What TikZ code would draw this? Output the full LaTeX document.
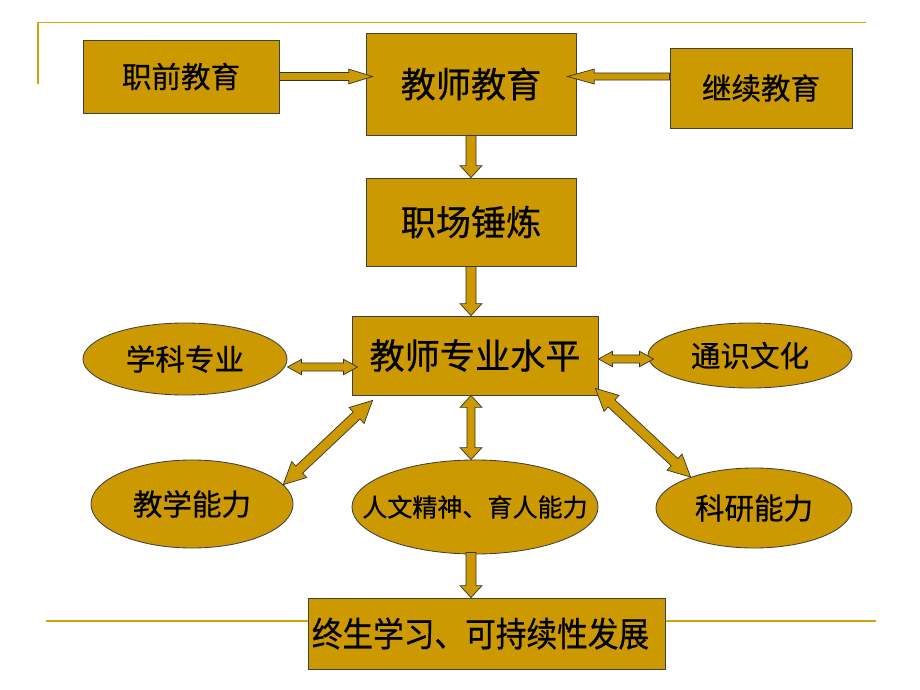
\documentclass[tikz,border=0pt]{standalone}
\usepackage{fontspec}
\newfontfamily\cjk{Noto Sans CJK SC}[FakeBold=0.6]
\usetikzlibrary{shapes.geometric, calc}
\definecolor{gold}{HTML}{CC9900}
\definecolor{rule}{HTML}{D4A20A}
\newcommand{\ovaltext}[1]{\makebox[0pt]{#1}}
\tikzstyle{box} = [rectangle, draw=black!75, fill=gold, line width=0.6pt, inner sep=0pt]
\tikzstyle{oval} = [ellipse, draw=black!75, fill=gold, line width=0.6pt, inner sep=0pt]
\tikzstyle{deco} = [draw=rule, line width=1.4pt]
\tikzstyle{big} = [font=\cjk\fontsize{25pt}{28pt}\selectfont]
\tikzstyle{mid} = [font=\cjk\fontsize{21pt}{24pt}\selectfont]
\tikzset{
  shaftw/.store in=\shaftw, headw/.store in=\headw, headl/.store in=\headl,
  shaftw=2.85pt, headw=5.5pt, headl=10pt,
  thickarr/.style={shaftw=3.6pt, headw=7.8pt, headl=8.5pt},
  onearrow/.style={draw=black!80, fill=gold, line width=0.5pt,
    to path={let \p1=(\tikztostart), \p2=(\tikztotarget), \n1={atan2(\y2-\y1,\x2-\x1)} in
      ($(\p1)+({\n1+90}:\shaftw)$) -- ($(\p2)+({\n1+180}:\headl)+({\n1+90}:\shaftw)$)
      -- ($(\p2)+({\n1+180}:\headl)+({\n1+90}:\headw)$) -- (\p2)
      -- ($(\p2)+({\n1+180}:\headl)+({\n1-90}:\headw)$) -- ($(\p2)+({\n1+180}:\headl)+({\n1-90}:\shaftw)$)
      -- ($(\p1)+({\n1-90}:\shaftw)$) -- cycle}},
  twoarrow/.style={draw=black!80, fill=gold, line width=0.5pt,
    to path={let \p1=(\tikztostart), \p2=(\tikztotarget), \n1={atan2(\y2-\y1,\x2-\x1)} in
      (\p1) -- ($(\p1)+(\n1:\headl)+({\n1+90}:\headw)$) -- ($(\p1)+(\n1:\headl)+({\n1+90}:\shaftw)$)
      -- ($(\p2)+({\n1+180}:\headl)+({\n1+90}:\shaftw)$) -- ($(\p2)+({\n1+180}:\headl)+({\n1+90}:\headw)$)
      -- (\p2) -- ($(\p2)+({\n1+180}:\headl)+({\n1-90}:\headw)$) -- ($(\p2)+({\n1+180}:\headl)+({\n1-90}:\shaftw)$)
      -- ($(\p1)+(\n1:\headl)+({\n1-90}:\shaftw)$) -- ($(\p1)+(\n1:\headl)+({\n1-90}:\headw)$) -- cycle}}
}

\begin{document}
\begin{tikzpicture}[x=0.025cm, y=-0.025cm]

\useasboundingbox (0,0) rectangle (920,690);

\draw [deco] (38,84) -- (38,22.5) -- (866,22.5);
\draw [deco] (46,621) -- (876,621);

\node (pre)   [box, mid, minimum width=4.9cm, minimum height=1.825cm]   at (181,76.5)  {职前教育};
\node (edu)   [box, big, minimum width=5.25cm, minimum height=2.55cm]   at (471,84)    {教师教育};
\node (cont)  [box, mid, minimum width=4.55cm, minimum height=2cm]      at (761,88)    {继续教育};
\node (work)  [box, big, minimum width=5.25cm, minimum height=2.2cm]    at (471,222)   {职场锤炼};
\node (lvl)   [box, big, minimum width=6.15cm, minimum height=1.975cm]  at (475,355.5) {教师专业水平};
\node (subj)  [oval, mid, minimum width=5.1cm, minimum height=1.8cm]    at (185,359)   {\ovaltext{学科专业}};
\node (gen)   [oval, mid, minimum width=5.1cm, minimum height=1.625cm]  at (750,355.5) {\ovaltext{通识文化}};
\node (teach) [oval, mid, minimum width=5.05cm, minimum height=2.2cm]   at (192,504)   {\ovaltext{教学能力}};
\node (hum)   [oval, font=\cjk\fontsize{17.8pt}{20pt}\selectfont, minimum width=6.15cm, minimum height=2.35cm] at (475,507) {\ovaltext{人文精神、育人能力}};
\node (res)   [oval, mid, minimum width=4.9cm, minimum height=2cm]      at (754,508)   {\ovaltext{科研能力}};
\node (life)  [box, font=\cjk\fontsize{21.8pt}{26pt}\selectfont, minimum width=8.925cm, minimum height=1.775cm] at (486.5,633.5) {\ovaltext{\hspace*{-0.3cm}\scalebox{1}[1.12]{终生学习、可持续性发展}}};

\draw [onearrow, shaftw=2.85pt, headw=5.3pt, headl=17pt] (pre.east) to ([shift={(7,0)}]pre -| edu.west);
\draw [onearrow, shaftw=2.5pt, headw=5.3pt, headl=19pt] (cont.west |- pre.east) to ([shift={(-9,0)}]edu.east |- pre.east);
\draw [onearrow, thickarr] (edu.south) to (work.north);
\draw [onearrow, thickarr] (work.south) to (work.south |- lvl.north);
\draw [twoarrow] ([shift={(0,8)}]subj.east) to ([shift={(6,11.5)}]lvl.west);
\draw [twoarrow] ([shift={(0,3.5)}]lvl.east) to ([shift={(6,3.5)}]gen.west);
\draw [twoarrow, shaftw=3.5pt, headw=7.8pt, headl=15.6pt] ([shift={(21,5)}]lvl.south west) to (teach.12);
\draw [twoarrow, shaftw=3.5pt, headw=7.8pt, headl=15.6pt] ([shift={(-3,-7)}]lvl.south east) to (res.154);
\draw [twoarrow, thickarr, shaftw=2.85pt] ([shift={(-4,0)}]lvl.south) to ([shift={(-4,0)}]hum.north);
\draw [onearrow, thickarr] ([shift={(-4,-2)}]hum.south) to ([shift={(-4,0)}]hum.south |- life.north);

\end{tikzpicture}
\end{document}
